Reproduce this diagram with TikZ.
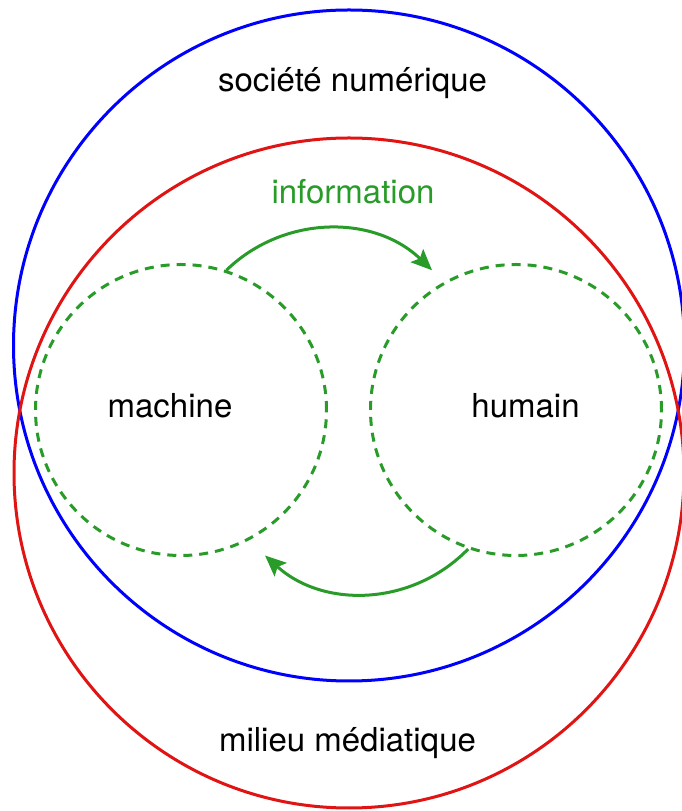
\documentclass[tikz,border=0pt]{standalone}
\usepackage{fontspec}
\setmainfont{TeX Gyre Heros}
\usetikzlibrary{arrows.meta,calc}
\definecolor{cblue}{RGB}{0,0,255}
\definecolor{cred}{RGB}{225,20,20}
\definecolor{cgreen}{RGB}{40,155,40}
\begin{document}
\begin{tikzpicture}[x=1pt,y=1pt,
  lbl/.style={font=\fontsize{33}{40}\selectfont, anchor=base, inner sep=0pt},
  outer/.style={draw, line width=3pt},
  dashcirc/.style={circle, draw=cgreen, line width=3pt, dash pattern=on 9pt off 7pt, minimum size=291pt, inner sep=0pt},
  flow/.style={draw=cgreen, line width=3pt, -{Stealth[length=21pt,width=18pt,inset=4pt]}}]
\useasboundingbox (0,0) rectangle (682,811);
\clip (0,0) rectangle (682,811);
\draw[outer, cblue] (349,465.5) circle[radius=335.5];
\draw[outer, cred] (349,338) circle[radius=335];
\node[dashcirc] (mcirc) at (181,401) {};
\node[dashcirc] (hcirc) at (516,401) {};
\node[lbl] (soc) at (352.5,719) {société numérique};
\node[lbl, text=cgreen] (info) at (353,607) {information};
\node[lbl] (mach) at (170,393) {machine};
\node[lbl] (hum) at (525.5,393) {humain};
\node[lbl] (mil) at (347.5,59) {milieu médiatique};
\coordinate (topend) at ($(hcirc.center)+(121:163)$);
\coordinate (botend) at ($(mcirc.center)+(300:168)$);
\draw[flow] (mcirc.72) to[bend left=44] (topend);
\draw[flow] (hcirc.251) to[bend left=44] (botend);
\end{tikzpicture}
\end{document}
